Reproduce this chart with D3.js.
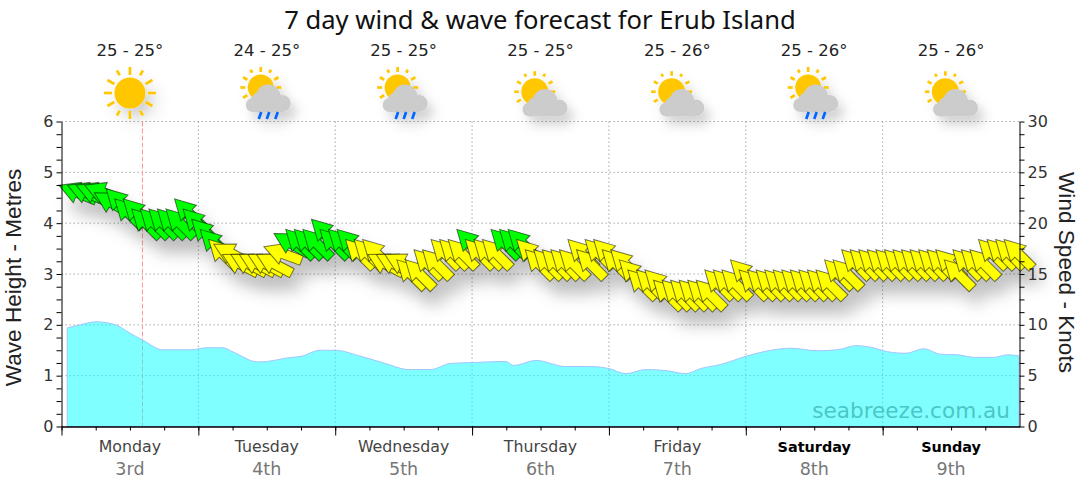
<!DOCTYPE html>
<html>
<head>
<meta charset="utf-8">
<script src="https://cdnjs.cloudflare.com/ajax/libs/d3/7.8.5/d3.min.js"></script>
<style>
  html, body { margin: 0; padding: 0; background: #fff; }
  svg { display: block; }
</style>
</head>
<body>
<svg id="chart" width="1080" height="490"></svg>
<script>
(function() {

  // ----------
  var dayNames = ['Monday', 'Tuesday', 'Wednesday', 'Thursday', 'Friday', 'Saturday', 'Sunday'];
  var dayDates = ['3rd', '4th', '5th', '6th', '7th', '8th', '9th'];
  var weekendDays = ['Saturday', 'Sunday'];
  var tempRanges = ['25 - 25°', '24 - 25°', '25 - 25°', '25 - 25°', '25 - 26°', '25 - 26°', '25 - 26°'];
  var dayIcons = ['sun', 'rain', 'rain', 'cloud', 'cloud', 'rain', 'cloud'];

  // wind speed in knots, one reading every 1.5 hours
  var windKnots = [
    23, 23, 23, 23, 22, 22, 21, 21, 20, 20,
    20, 20, 20, 21, 20, 19, 18, 17, 17, 16,
    16, 16, 16, 16, 17, 18, 18, 18, 18, 19,
    18, 18, 18, 17, 17, 17, 16, 16, 16, 15,
    15, 16, 16, 17, 17, 17, 18, 17, 17, 17,
    18, 18, 18, 17, 16, 16, 16, 16, 16, 17,
    16, 17, 17, 16, 16, 15, 14, 14, 14, 13,
    13, 13, 13, 13, 13, 14, 14, 14, 15, 14,
    14, 14, 14, 14, 14, 14, 14, 14, 14, 15,
    15, 16, 16, 16, 16, 16, 16, 16, 16, 16,
    16, 16, 16, 15, 16, 16, 16, 17, 17, 17, 17
  ];

  // direction the wind comes from, degrees
  var windFrom = [
    112, 112, 112, 112, 120, 135, 135, 135, 135, 135,
    135, 135, 135, 135, 135, 135, 135, 135, 118, 118,
    118, 118, 118, 118, 110, 120, 135, 135, 135, 135,
    135, 135, 135, 135, 135, 135, 118, 118, 118, 135,
    135, 135, 135, 135, 135, 135, 135, 135, 135, 135,
    135, 135, 135, 135, 135, 135, 135, 135, 135, 135,
    135, 135, 135, 135, 135, 135, 135, 135, 135, 135,
    135, 135, 135, 135, 135, 135, 135, 135, 135, 135,
    135, 135, 135, 135, 135, 135, 135, 135, 135, 135,
    135, 135, 135, 135, 135, 135, 135, 135, 135, 135,
    135, 135, 135, 135, 135, 135, 135, 135, 135, 135, 135
  ];

  var waveHours = [
    1, 3.3, 6, 9.5, 11.8, 14.4, 17.7, 22.6, 25.6, 28.2, 30.2, 34.4, 36.1, 39.6, 42, 45.4, 48,
    52.5, 56.8, 60.9, 64.7, 68.2, 72.6, 77.9, 79.3, 83.2, 88.4, 92.8, 96, 99, 102.5, 106,
    109.5, 112.1, 115.6, 120, 123.5, 127.9, 132.6, 136.1, 139.3, 141.9, 144.9, 148.1, 151.2,
    154.2, 157.2, 160, 163.5, 166, 167.9
  ];
  var waveMetres = [
    1.94, 2.0, 2.06, 2.0, 1.85, 1.69, 1.51, 1.51, 1.55, 1.55, 1.46, 1.27, 1.28, 1.35, 1.38, 1.5, 1.5,
    1.38, 1.24, 1.12, 1.12, 1.24, 1.26, 1.28, 1.2, 1.3, 1.18, 1.18, 1.14, 1.04, 1.12, 1.1,
    1.04, 1.14, 1.22, 1.38, 1.48, 1.54, 1.49, 1.51, 1.59, 1.56, 1.47, 1.44, 1.53,
    1.42, 1.41, 1.36, 1.36, 1.41, 1.39
  ];

  var nowHour = 14.2;
  var windStart = 2.8;
  var windStep = 1.5;
  var greenFrom = 18;

  // ----------
  var labelFont = '"DejaVu Sans", Verdana, sans-serif';
  var titleFont = '"Noto Sans", sans-serif';
  var axisFont = '"Liberation Sans", Arial, sans-serif';

  var svg = d3.select('#chart');

  var left = 61.5, right = 1019.5, top = 121.5, bottom = 426.5;

  var x = d3.scaleLinear().domain([0, 168]).range([left, right]);
  var yWave = d3.scaleLinear().domain([0, 6]).range([bottom, top]);
  var yWind = d3.scaleLinear().domain([0, 30]).range([bottom, top]);

  var defs = svg.append('defs');

  function addShadow(id, dx, dy, blur, opacity) {
    defs.append('filter')
      .attr('id', id)
      .attr('x', '-30%')
      .attr('y', '-30%')
      .attr('width', '170%')
      .attr('height', '190%')
      .append('feDropShadow')
      .attr('dx', dx)
      .attr('dy', dy)
      .attr('stdDeviation', blur)
      .attr('flood-color', '#000')
      .attr('flood-opacity', opacity);
  }

  addShadow('arrowShadow', 8, 14, 8, 0.26);
  addShadow('iconShadow', 6, 8, 6, 0.18);

  // ---------- grid
  var grid = svg.append('g');

  grid.selectAll('.h')
    .data(d3.range(1, 7))
    .enter().append('line')
    .attr('x1', left)
    .attr('x2', right)
    .attr('y1', function(d) { return yWave(d); })
    .attr('y2', function(d) { return yWave(d); });

  grid.selectAll('.v')
    .data(d3.range(24, 168, 24))
    .enter().append('line')
    .attr('x1', function(d) { return x(d); })
    .attr('x2', function(d) { return x(d); })
    .attr('y1', top)
    .attr('y2', bottom);

  grid.selectAll('line')
    .attr('stroke', '#aaa')
    .attr('stroke-dasharray', '1.5,2.5');

  svg.append('line')
    .attr('x1', x(nowHour))
    .attr('x2', x(nowHour))
    .attr('y1', top)
    .attr('y2', bottom)
    .attr('stroke', '#ff9a9a')
    .attr('stroke-dasharray', '5,2');

  // ---------- waves
  var waveData = d3.zip(waveHours, waveMetres);

  svg.append('path')
    .datum(waveData)
    .attr('fill', '#00ffff')
    .attr('fill-opacity', 0.5)
    .attr('stroke', '#a4c4ff')
    .attr('d', d3.area()
      .x(function(d) { return x(d[0]); })
      .y0(bottom)
      .y1(function(d) { return yWave(d[1]); })
      .curve(d3.curveMonotoneX));

  // ---------- wind arrows, centred on the head base and pointing up before rotating
  var arrowShape = 'M0,-20L11,0L5,0L5,20L-5,20L-5,0L-11,0Z';

  svg.append('g')
    .attr('filter', 'url(#arrowShadow)')
    .selectAll('path')
    .data(windKnots)
    .enter().append('path')
    .attr('d', arrowShape)
    .attr('transform', function(d, i) {
      return 'translate(' + x(windStart + i * windStep) + ',' + yWind(d) + ') rotate(' + (windFrom[i] + 180) + ')';
    })
    .attr('fill', function(d) { return d >= greenFrom ? '#00ff00' : '#ffff00'; })
    .attr('stroke', '#000')
    .attr('stroke-opacity', 0.55)
    .attr('stroke-width', 1);

  // ---------- axes
  function styleAxis(g) {
    g.selectAll('path').attr('stroke', '#000').attr('stroke-width', 1);
    g.selectAll('line').attr('stroke', '#000');
    g.selectAll('text')
      .attr('fill', '#333')
      .style('font-family', labelFont)
      .style('font-size', '16px');
  }

  var leftAxis = d3.axisLeft(yWave)
    .tickValues(d3.range(0, 6.01, 0.25))
    .tickSize(5)
    .tickSizeOuter(0)
    .tickFormat(function(d) { return d % 1 === 0 ? d : ''; });

  svg.append('g')
    .attr('transform', 'translate(' + left + ',0)')
    .call(leftAxis)
    .call(styleAxis);

  var rightAxis = d3.axisRight(yWind)
    .tickValues(d3.range(0, 30.01, 1.25))
    .tickSize(5)
    .tickSizeOuter(0)
    .tickFormat(function(d) { return d % 5 === 0 ? d : ''; });

  svg.append('g')
    .attr('transform', 'translate(' + right + ',0)')
    .call(rightAxis)
    .call(styleAxis);

  var minorAxis = d3.axisBottom(x)
    .tickValues(d3.range(0, 168, 6))
    .tickSize(4)
    .tickSizeOuter(0)
    .tickFormat('');

  svg.append('g')
    .attr('transform', 'translate(0,' + bottom + ')')
    .call(minorAxis)
    .call(styleAxis);

  var majorAxis = d3.axisBottom(x)
    .tickValues(d3.range(0, 168, 24))
    .tickSize(9)
    .tickSizeOuter(0)
    .tickFormat('');

  svg.append('g')
    .attr('transform', 'translate(0,' + bottom + ')')
    .call(majorAxis)
    .call(styleAxis);

  // ---------- day labels
  var days = svg.append('g')
    .selectAll('g')
    .data(dayNames)
    .enter().append('g')
    .attr('transform', function(d, i) { return 'translate(' + x(12 + i * 24) + ',0)'; })
    .attr('text-anchor', 'middle')
    .style('font-family', labelFont);

  days.append('text')
    .attr('y', 452)
    .style('font-size', function(d) { return weekendDays.indexOf(d) >= 0 ? '14.4px' : '15.8px'; })
    .style('font-weight', function(d) { return weekendDays.indexOf(d) >= 0 ? 'bold' : 'normal'; })
    .attr('fill', function(d) { return weekendDays.indexOf(d) >= 0 ? '#000' : '#444'; })
    .text(function(d) { return d; });

  days.append('text')
    .attr('y', 475)
    .style('font-size', '17.5px')
    .attr('fill', '#777')
    .text(function(d, i) { return dayDates[i]; });

  days.append('text')
    .attr('y', 56)
    .style('font-size', '16.5px')
    .attr('fill', '#222')
    .text(function(d, i) { return tempRanges[i]; });

  // ---------- weather icons
  function drawSun(g, cx, cy, r, inner, outer) {
    g.selectAll('.ray')
      .data(d3.range(12))
      .enter().append('rect')
      .attr('x', -1.35)
      .attr('y', -outer)
      .attr('width', 2.7)
      .attr('height', function(d) { return d % 6 === 1 || d % 6 === 5 ? (outer - inner) * 0.7 : outer - inner; })
      .attr('fill', '#ffc700')
      .attr('transform', function(d) { return 'translate(' + cx + ',' + cy + ') rotate(' + (d * 30) + ')'; });

    g.append('circle')
      .attr('cx', cx)
      .attr('cy', cy)
      .attr('r', r)
      .attr('fill', '#ffc700');
  }

  function drawCloud(g, dx, dy) {
    var puffs = [[1.5, 97, 12.5], [15.5, 103.5, 8.5], [-14, 105, 7], [-7, 101, 9]];

    g.selectAll('.puff')
      .data(puffs)
      .enter().append('circle')
      .attr('cx', function(d) { return d[0] + dx; })
      .attr('cy', function(d) { return d[1] + dy; })
      .attr('r', function(d) { return d[2]; })
      .attr('fill', '#ccc');

    g.append('rect')
      .attr('x', -14 + dx)
      .attr('y', 100 + dy)
      .attr('width', 29.5)
      .attr('height', 12)
      .attr('fill', '#ccc');
  }

  days.append('g')
    .attr('filter', 'url(#iconShadow)')
    .each(function(d, i) {
      var g = d3.select(this);

      if (dayIcons[i] === 'sun') {
        drawSun(g, 0, 93, 15.5, 18, 26);
        return;
      }

      if (dayIcons[i] === 'cloud') {
        drawSun(g, -5.7, 91.7, 13.5, 16, 20.5);
        drawCloud(g, 3, 4.5);
        return;
      }

      drawSun(g, -6, 87.5, 13, 15.5, 20.5);
      drawCloud(g, 0, 0);

      g.selectAll('.drop')
        .data([-5.5, 2.5, 11])
        .enter().append('line')
        .attr('x1', function(v) { return v; })
        .attr('x2', function(v) { return v - 2.5; })
        .attr('y1', 112)
        .attr('y2', 119)
        .attr('stroke', '#0066ff')
        .attr('stroke-width', 2.7);
    });

  // ---------- titles
  svg.append('text')
    .attr('x', 540)
    .attr('y', 29)
    .attr('text-anchor', 'middle')
    .style('font-family', titleFont)
    .style('font-size', '25.6px')
    .attr('fill', '#111')
    .text('7 day wind & wave forecast for Erub Island');

  svg.append('text')
    .attr('transform', 'translate(21,277.5) rotate(-90)')
    .attr('text-anchor', 'middle')
    .style('font-family', axisFont)
    .style('font-size', '22.6px')
    .attr('fill', '#222')
    .text('Wave Height - Metres');

  svg.append('text')
    .attr('transform', 'translate(1059,272.5) rotate(90)')
    .attr('text-anchor', 'middle')
    .style('font-family', axisFont)
    .style('font-size', '22.6px')
    .attr('fill', '#222')
    .text('Wind Speed - Knots');

  svg.append('text')
    .attr('x', 1010)
    .attr('y', 418)
    .attr('text-anchor', 'end')
    .style('font-family', labelFont)
    .style('font-size', '21.6px')
    .attr('fill', '#4cc6c6')
    .text('seabreeze.com.au');

})();
</script>
</body>
</html>
